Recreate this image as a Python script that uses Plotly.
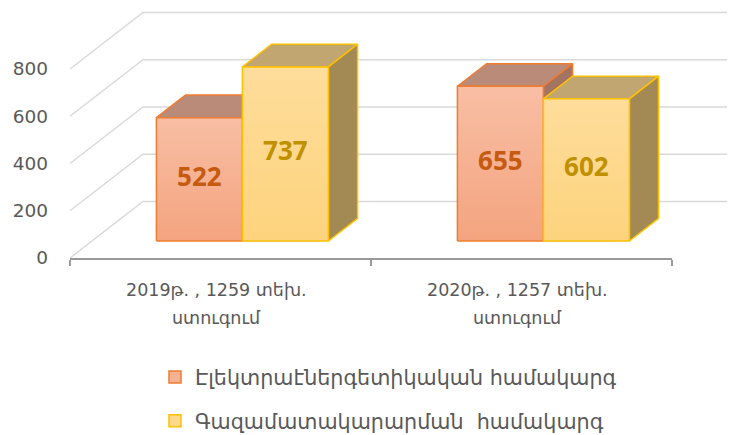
import plotly.graph_objects as go

# ---- data ----
categories = ["2019թ. , 1259 տեխ.\nստուգում", "2020թ. , 1257 տեխ.\nստուգում"]
series_names = ["Էլեկտրաէներգետիկական համակարգ", "Գազամատակարարման&nbsp; համակարգ"]
electric_values = [522, 655]
gas_values = [737, 602]
y_ticks = [0, 200, 400, 600, 800]

# ---- styling / geometry (3D projection parameters) ----
PAGE_OFFSET = 8                    # default body margin of the html page
W, H = 735 - PAGE_OFFSET, 445
PX_PER_UNIT_Y = 189 / 800          # pixels per value unit
PX_PER_CAT = 301                   # pixels per category
AXIS_LEFT_PX = 70 - PAGE_OFFSET
PLOT_BOTTOM_PX = 258 - PAGE_OFFSET
DEPTH_DX = 73 / PX_PER_CAT         # full depth x-shift (category units)
DEPTH_DY = 56.6 / PX_PER_UNIT_Y    # full depth y-shift (value units)
BAR_D0, BAR_D1 = 0.3, 0.7
BAR_W = 86 / PX_PER_CAT

xmin = -0.5 - AXIS_LEFT_PX / PX_PER_CAT
xmax = xmin + W / PX_PER_CAT
ymax = PLOT_BOTTOM_PX / PX_PER_UNIT_Y

styles = [
    dict(front=["#F4A47F", "#F8BEA4"], top="#BA8B78", side="#A37462",
         edge="#ED7D31", label="#C55A11", legend="#F6B192"),
    dict(front=["#FDD37D", "#FEDD9B"], top="#C1A671", side="#A38A55",
         edge="#FFC000", label="#BF9000", legend="#FED98C"),
]
series_values = [electric_values, gas_values]

fig = go.Figure()

# gridlines: diagonal on the side wall + horizontal on the back wall
for v in y_ticks:
    fig.add_trace(go.Scatter(
        x=[-0.5, -0.5 + DEPTH_DX, xmax + 1],
        y=[v, v + DEPTH_DY, v + DEPTH_DY],
        mode="lines", line=dict(color="#D9D9D9", width=1.5),
        hoverinfo="skip", showlegend=False))

# 3D bars
base = BAR_D0 * DEPTH_DY
ddx = (BAR_D1 - BAR_D0) * DEPTH_DX
ddy = (BAR_D1 - BAR_D0) * DEPTH_DY
shift = BAR_D0 * DEPTH_DX
labels_x, labels_y, labels_t, labels_c = [], [], [], []
for ci in range(len(categories)):
    for si, vals in enumerate(series_values):
        st = styles[si]
        v = vals[ci]
        xl = ci + shift + (si - 1) * BAR_W
        xr = xl + BAR_W
        top = base + v
        # top face
        fig.add_trace(go.Scatter(
            x=[xl, xl + ddx, xr + ddx, xr, xl],
            y=[top, top + ddy, top + ddy, top, top],
            fill="toself", fillcolor=st["top"], mode="lines",
            line=dict(color=st["edge"], width=1.5),
            hoverinfo="skip", showlegend=False))
        # side face
        fig.add_trace(go.Scatter(
            x=[xr, xr + ddx, xr + ddx, xr, xr],
            y=[base, base + ddy, top + ddy, top, base],
            fill="toself", fillcolor=st["side"], mode="lines",
            line=dict(color=st["edge"], width=1.5),
            hoverinfo="skip", showlegend=False))
        # front face
        fig.add_trace(go.Scatter(
            x=[xl, xr, xr, xl, xl],
            y=[base, base, top, top, base],
            fill="toself",
            fillgradient=dict(type="vertical",
                              colorscale=[[0, st["front"][0]], [1, st["front"][1]]]),
            mode="lines", line=dict(color=st["edge"], width=1.5),
            hoverinfo="skip", showlegend=False))
        labels_x.append((xl + xr) / 2)
        labels_y.append(base + v / 2)
        labels_t.append(str(v))
        labels_c.append(st["label"])

fig.add_trace(go.Scatter(
    x=labels_x, y=labels_y, text=labels_t, mode="text",
    textfont=dict(family="Open Sans", size=26, color=labels_c, weight="bold"),
    hoverinfo="skip", showlegend=False))

# legend entries
for si, name in enumerate(series_names):
    st = styles[si]
    fig.add_trace(go.Scatter(
        x=[None], y=[None], mode="markers", name=name,
        legendgroup=str(si),
        marker=dict(symbol="square", size=12, color=st["legend"],
                    line=dict(color=st["edge"], width=1.5))))

# axis line + ticks on the front floor edge
fig.add_trace(go.Scatter(x=[-0.5], y=[0], xaxis="x2", mode="markers",
                         marker=dict(opacity=0), hoverinfo="skip", showlegend=False))

# category labels
for ci, cat in enumerate(categories):
    lines = cat.split("\n")
    for li, txt in enumerate(lines):
        fig.add_annotation(x=ci, y=-(32 + 28 * li) / PLOT_BOTTOM_PX,
                           xref="x2", yref="paper", text=txt, showarrow=False,
                           xanchor="center", yanchor="middle", xshift=-4,
                           font=dict(family="DejaVu Sans", size=17.5, color="#595959"))

fig.update_layout(
    width=W, height=H,
    margin=dict(l=0, r=0, t=0, b=H - PLOT_BOTTOM_PX, pad=0),
    paper_bgcolor="white", plot_bgcolor="rgba(0,0,0,0)",
    font=dict(family="DejaVu Sans", color="#595959"),
    xaxis=dict(range=[xmin, xmax], visible=False, fixedrange=True),
    xaxis2=dict(domain=[AXIS_LEFT_PX / W, (AXIS_LEFT_PX + 2 * PX_PER_CAT) / W],
                range=[-0.5, len(categories) - 0.5], anchor="y",
                showline=True, linecolor="#999999", linewidth=2,
                ticks="outside", tickvals=[-0.5, 0.5, 1.5], ticklen=6,
                tickcolor="#999999", tickwidth=2,
                showticklabels=False, showgrid=False, zeroline=False),
    yaxis=dict(range=[0, ymax], anchor="free", position=AXIS_LEFT_PX / W,
               tickvals=y_ticks, showgrid=False, zeroline=False, showline=False,
               ticks="", ticklabelstandoff=22,
               tickfont=dict(family="DejaVu Sans", size=18.5, color="#595959")),
    showlegend=True,
    legend=dict(x=147 / W, xanchor="left", y=-(349 - PLOT_BOTTOM_PX) / PLOT_BOTTOM_PX,
                yanchor="top", orientation="v", traceorder="grouped",
                tracegroupgap=14,
                font=dict(family="DejaVu Sans", size=20.7, color="#595959"),
                bgcolor="rgba(0,0,0,0)"),
)

fig.write_html("out.html")
